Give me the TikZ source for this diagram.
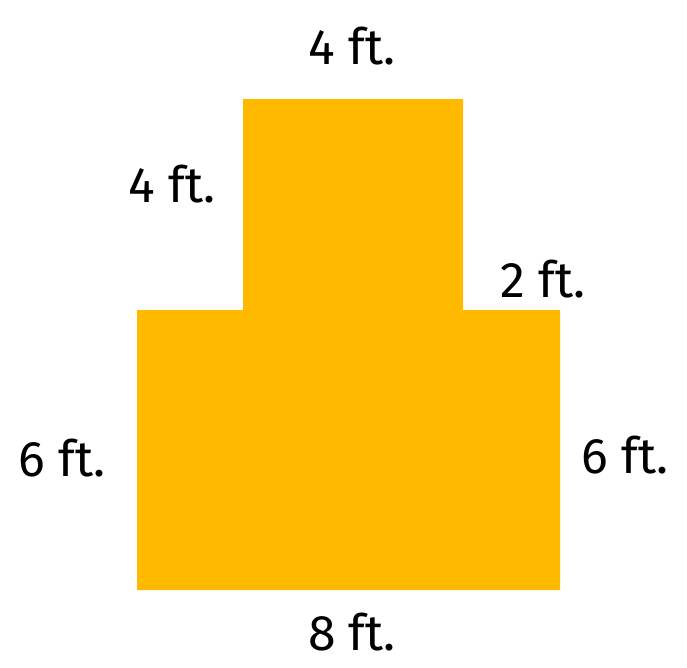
\documentclass[tikz,border=0pt]{standalone}
\usepackage{fontspec}
\setmainfont{Fira Sans}
\usetikzlibrary{positioning}
\definecolor{shapeorange}{RGB}{255,186,0}
\tikzset{
  dimlabel/.style={font=\fontsize{50}{54}\selectfont, text=black, inner sep=0pt},
}
\begin{document}
\begin{tikzpicture}[x=1pt, y=-1pt]
  \useasboundingbox (0,0) rectangle (687,667);

  % Corners of the shape
  \coordinate (tl) at (243,99);
  \coordinate (tr) at (463,99);
  \coordinate (ml) at (137,310);
  \coordinate (mr) at (560,310);
  \coordinate (bl) at (137,590);
  \coordinate (br) at (560,590);

  \fill[shapeorange] (bl) -- (ml) -- (tl |- ml) -- (tl) -- (tr) -- (tr |- mr)
    -- (mr) -- (br) -- cycle;

  % Dimension labels
  \node[dimlabel] (top)    at (352,46)  {4 ft.};
  \node[dimlabel] (upleft) at (172,184) {4 ft.};
  \node[dimlabel] (step)   at (543,279) {2 ft.};
  \node[dimlabel] (left)   at (62,458)  {6 ft.};
  \node[dimlabel] (right)  at (625,455) {6 ft.};
  \node[dimlabel] (bottom) at (352,632) {8 ft.};

\end{tikzpicture}
\end{document}
